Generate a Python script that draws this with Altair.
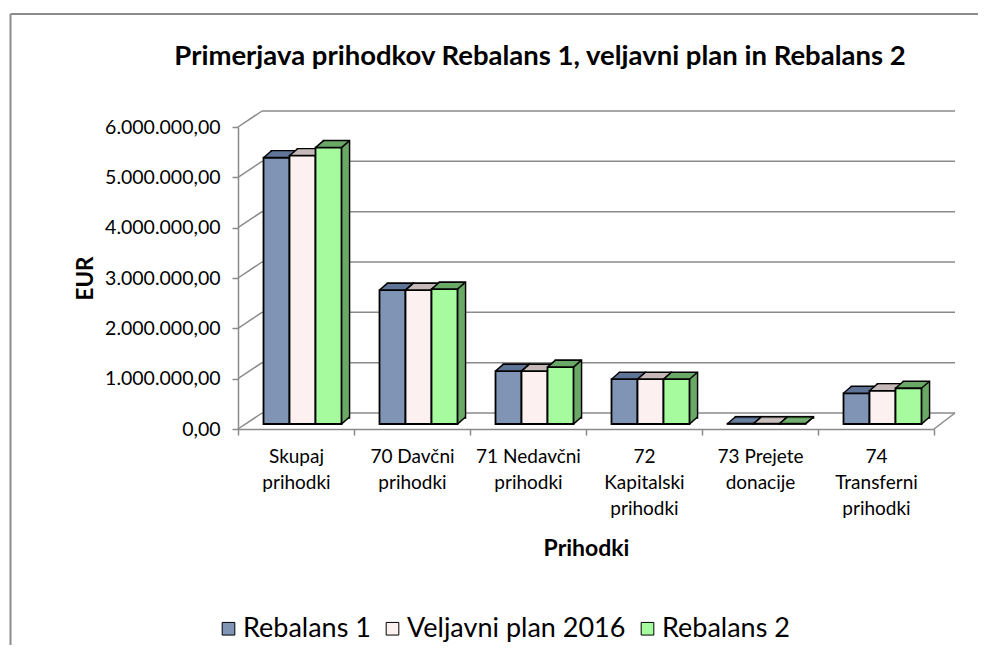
import altair as alt
import pandas as pd

categories = ["Skupaj\nprihodki", "70 Davčni\nprihodki", "71 Nedavčni\nprihodki",
              "72\nKapitalski\nprihodki", "73 Prejete\ndonacije", "74\nTransferni\nprihodki"]
series_names = ["Rebalans 1", "Veljavni plan 2016", "Rebalans 2"]
rebalans1 = [5290000, 2660000, 1050000, 890000, 6000, 610000]
veljavni = [5330000, 2660000, 1050000, 890000, 6000, 660000]
rebalans2 = [5490000, 2680000, 1130000, 890000, 6000, 710000]
y_ticks = [0, 1000000, 2000000, 3000000, 4000000, 5000000, 6000000]
title_text = "Primerjava prihodkov Rebalans 1, veljavni plan in Rebalans 2"

front_colors = ["#8095b6", "#fcf0f0", "#a6fb9f"]
side_colors = ["#5f7597", "#c6b9b9", "#6aa867"]
x_shift = [-19.5, 6.5, 32.5]

GRID = "#8a8a8a"
W, H = 696, 302
BAR_W = 26
DEPTH = 8
DY = 0.875
BASE = -5

x_axis = alt.Axis(title="Prihodki", titleFont="Lato", titleFontSize=23, titleFontWeight="bold",
                  titleX=W / 2, titleY=119, titleBaseline="middle", titleColor="black",
                  labelExpr="split(datum.label, '\\n')", labelAngle=0, labelFont="Lato",
                  labelFontSize=19, labelLineHeight=26, labelPadding=12, labelColor="black",
                  tickBand="extent", tickSize=6, tickColor=GRID, tickWidth=1.5,
                  domainColor=GRID, domainWidth=1.5, labelBaseline="top", labelLimit=0)
x_enc = alt.X("kategorija:N", sort=categories, scale=alt.Scale(paddingInner=0.0, paddingOuter=0.0),
              axis=x_axis)
y_scale = alt.Scale(domain=[0, 6000000], nice=False, zero=True)
y_axis = alt.Axis(values=y_ticks, grid=False, title="EUR", titleFont="Lato", titleFontSize=22.5,
                  titleFontWeight="bold", titleX=-153, titleY=H / 2, titleAngle=270,
                  titleAlign="center", titleBaseline="middle", titleColor="black",
                  labelExpr="datum.value == 0 ? '0,00' : format(datum.value / 1000000, 'd') + '.000.000,00'",
                  labelFont="Lato", labelFontSize=19.5, labelColor="black", labelPadding=12,
                  tickSize=6, tickColor=GRID, tickWidth=1.5, domainColor=GRID, domainWidth=1.5)
y_enc = alt.Y("vrednost:Q", scale=y_scale, axis=y_axis)

layers = []

# back wall gridlines
grid_df = pd.DataFrame({"vrednost": y_ticks})
layers.append(alt.Chart(grid_df).mark_rule(color=GRID, strokeWidth=1.5, yOffset=-16).encode(
    y=y_enc, x=alt.value(24), x2=alt.value(717)))
# left wall diagonals
layers.append(alt.Chart(grid_df).mark_rule(color=GRID, strokeWidth=1.5, y2Offset=-16).encode(
    y=y_enc, y2=alt.Y2("vrednost:Q"), x=alt.value(0), x2=alt.value(24)))
# floor right edge
layers.append(alt.Chart(grid_df.head(1)).mark_rule(color=GRID, strokeWidth=1.5, y2Offset=-16).encode(
    y=y_enc, y2=alt.Y2("vrednost:Q"), x=alt.value(W), x2=alt.value(717)))
# chart frame
layers.append(alt.Chart(grid_df.head(1)).mark_rule(color="#8c8c8c", strokeWidth=2).encode(
    x=alt.value(-227.5), x2=alt.value(740), y=alt.value(-113)))
layers.append(alt.Chart(grid_df.head(1)).mark_rule(color="#8c8c8c", strokeWidth=2).encode(
    x=alt.value(-227.5), y=alt.value(-113), y2=alt.value(530)))
# chart title
layers.append(alt.Chart(pd.DataFrame({"t": [title_text]})).mark_text(
    font="Lato", fontSize=27.5, fontWeight="bold", color="black", align="center", baseline="alphabetic").encode(
    text="t:N", x=alt.value(302), y=alt.value(-62)))

color_scale = alt.Scale(domain=series_names, range=front_colors)
legend = alt.Legend(orient="none", legendX=-23, legendY=488, direction="horizontal", title=None,
                    symbolType="square", symbolSize=160, symbolStrokeColor="black", symbolStrokeWidth=1,
                    labelFont="Lato", labelFontSize=27, labelColor="black", columnPadding=8,
                    symbolOffset=0, labelOffset=1, labelLimit=0)

for name, vals, fc, sc, xo in zip(series_names, [rebalans1, veljavni, rebalans2], front_colors, side_colors, x_shift):
    df = pd.DataFrame({"kategorija": categories, "vrednost": vals, "serija": name})
    base = alt.Chart(df)
    for k in range(DEPTH, 0, -1):
        dy = BASE - DY * k
        kw = dict(width=BAR_W, xOffset=xo + k, yOffset=dy, y2Offset=dy + 1, color=sc)
        if k == DEPTH:
            kw.update(stroke="black", strokeWidth=1.6)
        layers.append(base.mark_bar(**kw).encode(x=x_enc, y=y_enc, y2=alt.datum(0)))
    layers.append(base.mark_bar(width=BAR_W, xOffset=xo, yOffset=BASE, y2Offset=BASE, stroke="black",
                                strokeWidth=1.8).encode(
        x=x_enc, y=y_enc, y2=alt.datum(0),
        color=alt.Color("serija:N", scale=color_scale, legend=legend, sort=series_names)))
    half = BAR_W / 2
    for xs, use_top in [(-half, True), (half, True), (half, False)]:
        y2field = alt.Y2("vrednost:Q") if use_top else alt.Y2(datum=0)
        yfield = y_enc if use_top else alt.Y(datum=0, scale=y_scale, axis=y_axis)
        layers.append(base.mark_rule(color="black", strokeWidth=1.5, xOffset=xo + xs, x2Offset=xo + xs + DEPTH,
                                     yOffset=BASE, y2Offset=BASE - DY * DEPTH).encode(
            x=x_enc, x2=alt.X2("kategorija:N"), y=yfield, y2=y2field))

chart = alt.layer(*layers).properties(
    width=W, height=H,
    autosize=alt.AutoSizeParams(type="none"),
    padding={"left": 230, "top": 119, "right": 48, "bottom": 216},
).configure(font="Lato").configure_view(stroke=None)

chart.save("out.html", embed_options={"renderer": "svg", "actions": False})
